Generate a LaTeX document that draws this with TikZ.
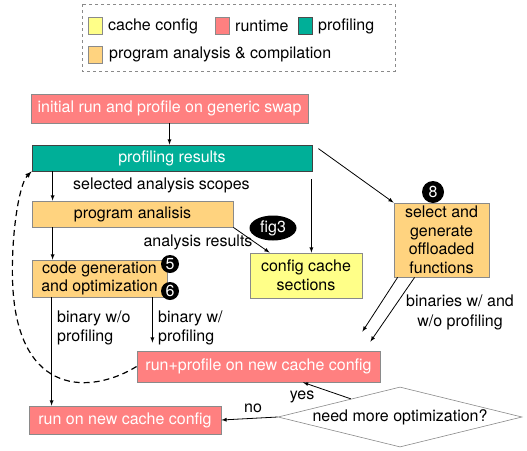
\documentclass[tikz,border=0pt]{standalone}
\usepackage{fontspec}
\setmainfont{TeX Gyre Heros}
\usetikzlibrary{arrows,arrows.meta,calc,positioning,shapes.geometric}
\definecolor{cachecol}{HTML}{FFFF88}
\definecolor{runcol}{HTML}{FF8080}
\definecolor{profcol}{HTML}{00AF98}
\definecolor{compcol}{HTML}{FFD37F}
\definecolor{edgecol}{HTML}{8A8A8A}

\begin{document}
\begin{tikzpicture}[x=1pt,y=-1pt,
  font=\fontsize{16}{18.5}\selectfont,
  box/.style={draw=edgecol,line width=0.8pt,inner sep=0pt,align=center},
  runbox/.style={box,fill=runcol,text=white},
  profbox/.style={box,fill=profcol,text=white},
  compbox/.style={box,fill=compcol},
  cachebox/.style={box,fill=cachecol},
  swatch/.style={draw=edgecol,line width=0.8pt,minimum width=14pt,minimum height=17pt,inner sep=0pt},
  badge/.style={circle,fill=black,text=white,inner sep=0pt,minimum size=18pt},
  lbl/.style={inner sep=0pt,align=left}]
\useasboundingbox (0,0) rectangle (527,450);

% legend
\draw[edgecol,dashed,line width=0.8pt] (82,4) rectangle (395,71);
\node[swatch,fill=cachecol] (lcache) at (95,25.5) {};
\node[lbl,anchor=west] at (108,26) {cache config};
\node[swatch,fill=runcol] (lrun) at (222.5,25.5) {};
\node[lbl,anchor=west] at (235,26) {runtime};
\node[swatch,fill=profcol,draw=black!70] (lprof) at (305.5,25.5) {};
\node[lbl,anchor=west] at (318,26) {profiling};
\node[swatch,fill=compcol] (lcomp) at (95,54.5) {};
\node[lbl,anchor=west] at (109,54) {program analysis \& compilation};

% boxes
\node[runbox,minimum width=277pt,minimum height=29pt] (init) at (169.5,108.5) {initial run and profile on generic swap};
\node[profbox,draw=black!75,minimum width=280pt,minimum height=26pt] (prof) at (172,158) {profiling results};
\node[compbox,minimum width=201pt,minimum height=26pt] (analysis) at (132.5,214) {program analisis};
\node[compbox,minimum width=135pt,minimum height=37pt] (codegen) at (99.5,278.5) {code generation\\and optimization};
\node[cachebox,minimum width=112pt,minimum height=45pt] (config) at (306,275.5) {config cache\\sections};
\node[compbox,minimum width=95pt,minimum height=74pt] (select) at (441.5,240) {select and\\generate\\offloaded\\functions};
\node[runbox,minimum width=243pt,minimum height=31pt] (runprof) at (258.5,366.5) {run+profile on new cache config};
\node[runbox,minimum width=192pt,minimum height=28pt] (runnew) at (125,420) {run on new cache config};
\node[draw=edgecol,line width=0.6pt,diamond,shape aspect=4,inner sep=0pt,minimum width=244pt,minimum height=60pt] (ask) at (400,417) {need more optimization?};

% badges
\node[badge] (b5) at (170,264) {5};
\node[badge] (b6) at (170,291) {6};
\node[badge,minimum size=22pt] (b8) at (433,192) {8};
\node[ellipse,fill=black,text=white,inner sep=0pt,minimum width=47pt,minimum height=25pt] (fig3) at (273,228) {fig3};

% labels
\node[lbl,anchor=west] (lscope) at (73,185) {selected analysis scopes};
\node[lbl] (lres) at (198,242) {analysis results};
\node[lbl,anchor=west,font=\fontsize{16}{19}\selectfont] (lwo) at (57,327.5) {binary w/o\\profiling};
\node[lbl,anchor=west,font=\fontsize{16}{19}\selectfont] (lw) at (158,327.5) {binary w/\\profiling};
\node[lbl,align=center,font=\fontsize{16}{20}\selectfont] (lboth) at (460,312) {binaries w/ and\\w/o profiling};
\node[lbl] (lyes) at (302,397) {yes};
\node[lbl] (lno) at (253,408) {no};

% connectors
\path[->,>=latex,line width=0.8pt]
(init.south) edge (init.south |- prof.north)
([xshift=21pt]prof.south west) edge ([xshift=21pt]analysis.north west)
([xshift=21pt]analysis.south west) edge ([xshift=21pt]codegen.north west)
(analysis.south east) edge ([xshift=20pt]config.north west)
([xshift=-1pt,yshift=-8pt]prof.south east) edge ([xshift=-1pt]prof.south east |- config.north)
($(prof.north east)+(6,4)$) edge (select.north west)
([xshift=4pt]select.south west) edge ($(runprof.north east)+(-18,-19)$)
([xshift=21pt]select.south west) edge ($(runprof.north east)+(-10,-9)$)
([xshift=20pt]codegen.south west) edge ([xshift=20pt]codegen.south west |- runnew.north)
([xshift=-15pt]codegen.south east) edge[shorten >=8pt] ([xshift=-15pt]codegen.south east |- runprof.north)
($(ask.north west)+(12,-3)$) edge ([xshift=44.5pt]runprof.south)
(ask.west) edge (runnew.east);
\draw[->,>=latex,line width=1.2pt,dash pattern=on 6pt off 4pt] (runprof.west) .. controls (90,395) and (20,395) .. (13,290) .. controls (10,245) and (18,185) .. (prof.south west);
\end{tikzpicture}
\end{document}
